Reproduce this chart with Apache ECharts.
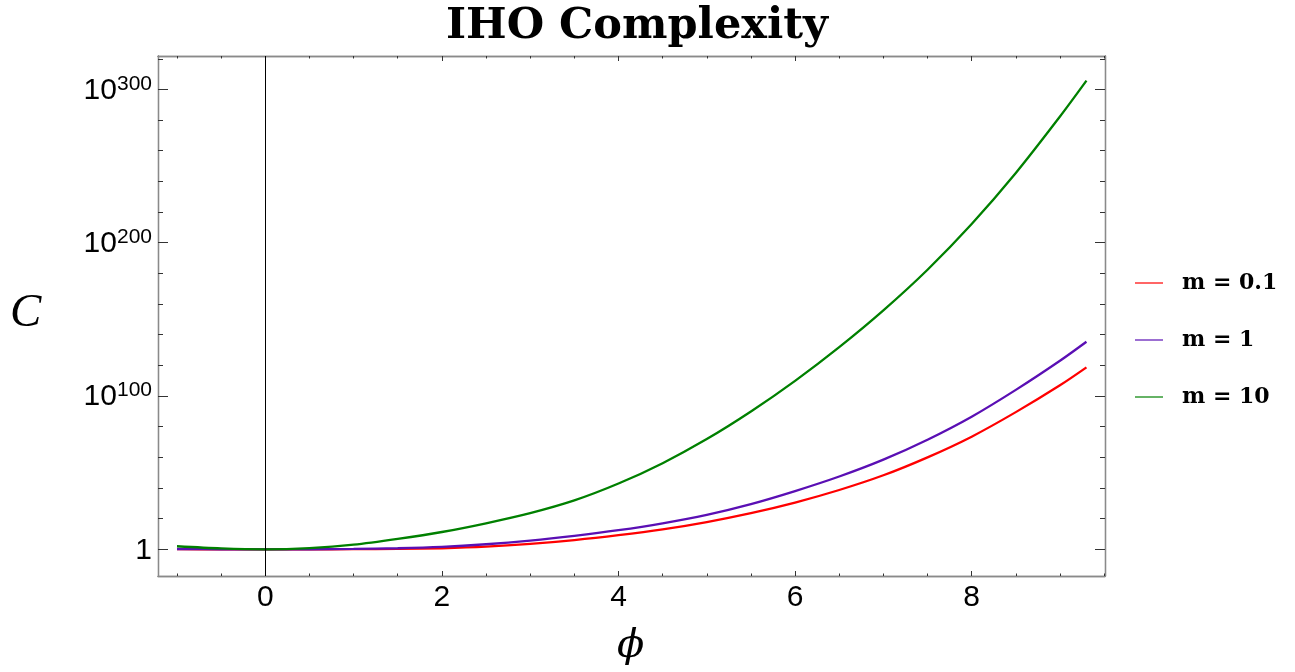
<!DOCTYPE html>
<html>
<head>
<meta charset="utf-8">
<script src="https://cdn.jsdelivr.net/npm/echarts@6/dist/echarts.min.js"></script>
<style>html,body{margin:0;padding:0;background:#fff;}#c{width:1295px;height:672px;}</style>
</head>
<body>
<div id="c"></div>
<script>
// phi values (x) and log10(C) exponents
const phi      = [-1, -0.5, 0, 0.5, 1, 1.5, 2, 2.5, 3, 3.5, 4, 4.5, 5, 5.5, 6, 6.5, 7, 7.5, 8, 8.5, 9, 9.3];
const m01Exp   = [0.1, 0.02, 0, 0.02, 0.08, 0.25, 0.7, 1.7, 3.5, 6.0, 9.2, 13, 17.8, 23.6, 30.5, 38.7, 48.3, 60, 73.5, 89.5, 107, 118.7];
const m1Exp    = [0.2, 0.05, 0, 0.05, 0.25, 0.7, 1.6, 3.3, 5.7, 8.8, 12.5, 17, 22.5, 29.5, 38, 47.5, 58.5, 71.5, 86.5, 104, 123, 135.4];
const m10Exp   = [2.0, 0.6, 0, 0.8, 3.0, 6.8, 11.3, 17, 23.6, 31.9, 42.9, 56.2, 71.9, 89.9, 109.9, 131.9, 155.9, 182.4, 212.2, 245.5, 282.3, 305.7];
const seriesNames = ['m = 0.1', 'm = 1', 'm = 10'];
const xMajor = [0, 2, 4, 6, 8];
const xMinor = [-1, -0.5, 0.5, 1, 1.5, 2.5, 3, 3.5, 4.5, 5, 5.5, 6.5, 7, 7.5, 8.5, 9, 9.5];
const yMajor = [0, 100, 200, 300];
const yMinor = [20, 40, 60, 80, 120, 140, 160, 180, 220, 240, 260, 280, 320];

const xMin = -1.215, xMax = 9.51, yMin = -17.4, yMax = 321.8;
const colors = ['#ff0000', '#5a0fb4', '#008000'];
const frameColor = '#8a8a8a';
const tickColor = '#333';

function pairs(ys) { return phi.map((x, i) => [x, ys[i]]); }

function xAx(pos, vals, len, labels) {
  return {
    type: 'value', position: pos, min: xMin, max: xMax,
    axisLine: { show: true, onZero: false, lineStyle: { color: frameColor, width: 1.3 } },
    axisTick: { show: true, inside: true, length: len, customValues: vals, lineStyle: { color: tickColor, width: 1 } },
    axisLabel: labels ? { show: true, customValues: vals, margin: 7, color: '#000', fontFamily: 'Liberation Sans', fontSize: 30 } : { show: false },
    splitLine: { show: false }
  };
}
function yAx(pos, vals, len, labels) {
  return {
    type: 'value', position: pos, min: yMin, max: yMax,
    axisLine: { show: true, onZero: false, lineStyle: { color: frameColor, width: 1.3 } },
    axisTick: { show: true, inside: true, length: len, customValues: vals, lineStyle: { color: tickColor, width: 1 } },
    axisLabel: labels ? {
      show: true, customValues: vals, margin: 6,
      formatter: function (v) { return v === 0 ? '{b|1}' : '{b|10}{s|' + v + '}'; },
      rich: {
        b: { fontFamily: 'Liberation Sans', fontSize: 30, color: '#000', lineHeight: 32, verticalAlign: 'bottom' },
        s: { fontFamily: 'Liberation Sans', fontSize: 21, color: '#000', lineHeight: 20, verticalAlign: 'top', padding: [0, 0, 6, 0] }
      }
    } : { show: false },
    splitLine: { show: false }
  };
}

const chart = echarts.init(document.getElementById('c'), null, { renderer: 'canvas' });
chart.setOption({
  animation: false,
  backgroundColor: '#fff',
  title: {
    text: 'IHO Complexity', left: 632, textAlign: 'center', top: 0,
    textStyle: { fontFamily: 'DejaVu Serif', fontWeight: 'bold', fontSize: 43, color: '#000' }
  },
  grid: { left: 158, right: 190, top: 56, bottom: 96 },
  xAxis: [
    xAx('bottom', xMajor, 5, true),
    xAx('bottom', xMinor, 2.5, false),
    xAx('top', xMajor, 5, false),
    xAx('top', xMinor, 2.5, false)
  ],
  yAxis: [
    yAx('left', yMajor, 10, true),
    yAx('left', yMinor, 5, false),
    yAx('right', yMajor, 10, false),
    yAx('right', yMinor, 5, false)
  ],
  legend: {
    orient: 'vertical', left: 1130, top: 267, itemWidth: 28, itemHeight: 1.2, itemGap: 35,
    icon: 'rect',
    data: seriesNames,
    textStyle: { fontFamily: 'DejaVu Serif', fontWeight: 'bold', fontSize: 22, lineHeight: 22, color: '#000', padding: [0, 0, 0, 14] }
  },
  graphic: [
    { type: 'text', left: 10, top: 290, style: { text: 'C', font: 'italic 47px "Liberation Serif"', fill: '#000' } },
    { type: 'text', left: 617, top: 627, style: { text: 'ϕ', font: 'italic 40px "DejaVu Serif"', fill: '#000' } }
  ],
  series: [
    { name: seriesNames[0], type: 'line', data: pairs(m01Exp), showSymbol: false, smooth: 0.3,
      lineStyle: { color: colors[0], width: 2.3 }, itemStyle: { color: colors[0] },
      markLine: { silent: true, symbol: 'none', label: { show: false }, lineStyle: { color: '#000', width: 1, type: 'solid' }, data: [{ xAxis: 0 }] } },
    { name: seriesNames[1], type: 'line', data: pairs(m1Exp), showSymbol: false, smooth: 0.3,
      lineStyle: { color: colors[1], width: 2.3 }, itemStyle: { color: colors[1] } },
    { name: seriesNames[2], type: 'line', data: pairs(m10Exp), showSymbol: false, smooth: 0.3,
      lineStyle: { color: colors[2], width: 2.3 }, itemStyle: { color: colors[2] } }
  ]
});
</script>
</body>
</html>
